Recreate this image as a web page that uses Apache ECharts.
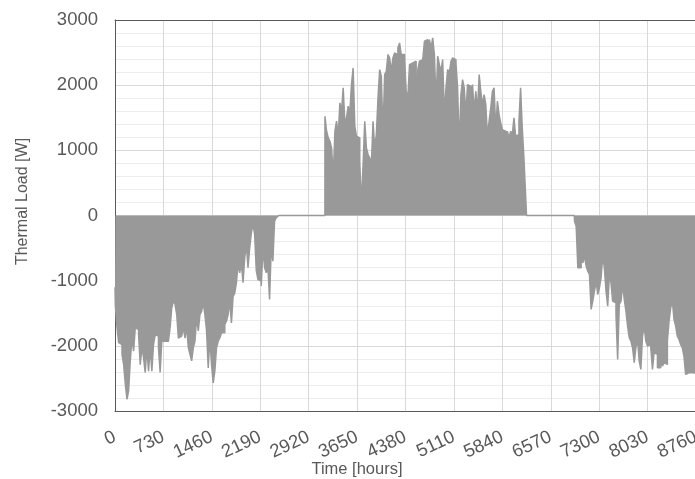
<!DOCTYPE html>
<html>
<head>
<meta charset="utf-8">
<script src="https://cdn.jsdelivr.net/npm/echarts@6/dist/echarts.min.js"></script>
<style>
  html, body { margin: 0; padding: 0; background: #fff; }
  #chart { width: 695px; height: 479px; }
</style>
</head>
<body>
<div id="chart"></div>
<script>
// Hourly building thermal load over one year (negative = heating, positive = cooling).
// Each season is stored as peak-load samples taken every SAMPLE_STEP hours from its start hour;
// every sample is drawn as a flat block SAMPLE_STEP hours wide.
const SAMPLE_STEP = 25;

const xTicks = [0, 730, 1460, 2190, 2920, 3650, 4380, 5110, 5840, 6570, 7300, 8030, 8760];
const yTicks = [-3000, -2000, -1000, 0, 1000, 2000, 3000];

// Winter / early spring heating (starts at hour 18)
const heatingEarlyStart = 18;
const heatingEarly = [
  -1390, -1720, -1950, -1980, -2130, -2290, -2590, -2820, -2690, -2230,
  -1880, -2080, -1720, -1750, -1830, -2290, -2030, -2180, -2410, -2030,
  -2390, -2030, -2390, -1980, -1830, -1850, -2030, -2410, -1930, -1930,
  -1900, -1930, -1930, -1720, -1420, -1310, -1360, -1520, -1880, -1850,
  -1880, -1720, -1880, -1720, -2030, -2130, -2230, -2030, -1930, -1570,
  -1770, -1520, -1470, -1340, -1520, -1770, -2340, -1880, -2290, -2570,
  -2390, -2030, -1930, -1880, -1800, -1800, -1670, -1620, -1520, -1310,
  -1650, -1240, -1190, -1030, -750, -880, -730, -1030, -650, -445,
  -800, -500, -265, -140, -290, -850, -980, -1010, -1080, -500,
  -800, -880, -800, -1290, -500, -700, -90, -35
];

// Summer cooling (starts at hour 3178)
const coolingStart = 3178;
const cooling = [
  1523, 1293, 1191, 1140, 1038, 600, 1293, 1447, 1217, 1728,
  1600, 1958, 1420, 1500, 1677, 1580, 2009, 2265, 1370, 1217,
  1190, 808, 169, 782, 1447, 1038, 936, 885, 782, 1447,
  1038, 1242, 1805, 2239, 2137, 1242, 2163, 2214, 2469, 2418,
  2214, 2418, 2495, 2469, 2571, 2648, 2469, 2469, 2418, 1907,
  1805, 2316, 2342, 2316, 2367, 1166, 2239, 2367, 2393, 2367,
  2674, 2699, 2597, 2699, 2571, 2725, 2469, 1728, 2444, 2316,
  2214, 2393, 1549, 1958, 2239, 2188, 2367, 2418, 2393, 2342,
  1958, 1038, 1856, 2086, 1958, 1549, 2009, 1984, 1651, 2009,
  1600, 1907, 1600, 2163, 1907, 1702, 1856, 1702, 1217, 1447,
  1651, 1907, 1958, 1319, 1754, 1549, 1421, 1319, 1293, 1242,
  1293, 1191, 1293, 1242, 1498, 1217, 1242, 1447, 1958, 1344,
  884
];

// Autumn / early winter heating (starts at hour 6941)
const heatingLateStart = 6941;
const heatingLate = [
  -87, -164, -803, -803, -470, -726, -624, -777, -854, -905,
  -1442, -1314, -1160, -1007, -1212, -1109, -956, -624, -803, -1160,
  -1391, -931, -1033, -1314, -1340, -1518, -2209, -1365, -1314, -1058,
  -1288, -1467, -1697, -1876, -1927, -2030, -2260, -2030, -1902, -2234,
  -2362, -1851, -1697, -1927, -2004, -1979, -2030, -2362, -2106, -2132,
  -2336, -2336, -2030, -2311, -2260, -2285, -1927, -1621, -1416, -1314,
  -1595, -1697, -1851, -1902, -1979, -2030, -2157, -2439, -2413, -2388,
  -2413
];

// Fixed points: first hour, idle periods between seasons, last hour
const firstHourLoad = [0, -1100];
const springIdle = [[2470, 0], [3165, 0]];
const autumnIdle = [[6205, 0], [6925, 0]];
const lastHourLoad = [8760, -2420];

// Expand a season into flat blocks centred on each sample hour
function season(start, values) {
  const pts = [];
  const half = SAMPLE_STEP / 2;
  values.forEach((v, i) => {
    const h = start + i * SAMPLE_STEP;
    pts.push([h - half, v], [h + half, v]);
  });
  return pts;
}

const loadData = [firstHourLoad]
  .concat(season(heatingEarlyStart, heatingEarly))
  .concat(springIdle)
  .concat(season(coolingStart, cooling))
  .concat(autumnIdle)
  .concat(season(heatingLateStart, heatingLate))
  .concat([lastHourLoad]);

const textColor = '#595959';
const frameColor = '#595959';
const fontFamily = '"Liberation Sans", Arial, sans-serif';
const plain = (v) => String(v);

const chart = echarts.init(document.getElementById('chart'), null, { renderer: 'canvas' });
chart.setOption({
  backgroundColor: '#ffffff',
  animation: false,
  grid: {
    left: 115,
    top: 20,
    width: 581,
    height: 391,
    containLabel: false,
    outerBoundsMode: 'none',
    show: false
  },
  xAxis: [{
    type: 'value',
    position: 'bottom',
    min: xTicks[0],
    max: xTicks[xTicks.length - 1],
    interval: xTicks[1] - xTicks[0],
    name: 'Time [hours]',
    nameLocation: 'middle',
    nameGap: 50,
    nameMoveOverlap: false,
    nameTextStyle: { color: textColor, fontSize: 16.5, fontFamily: fontFamily, padding: [0, 97, 0, 0] },
    axisLine: { show: true, onZero: false, lineStyle: { color: frameColor, width: 1 } },
    axisTick: { show: false },
    axisLabel: {
      color: textColor,
      fontSize: 18.5,
      fontFamily: fontFamily,
      rotate: 25,
      margin: 25,
      showMinLabel: true,
      showMaxLabel: true,
      formatter: plain
    },
    splitLine: { show: true, lineStyle: { color: '#d9d9d9', width: 1 } }
  }, {
    type: 'value',
    position: 'top',
    min: xTicks[0],
    max: xTicks[xTicks.length - 1],
    interval: xTicks[1] - xTicks[0],
    axisLine: { show: true, onZero: false, lineStyle: { color: frameColor, width: 1 } },
    axisTick: { show: false },
    axisLabel: { show: false },
    splitLine: { show: false }
  }],
  yAxis: {
    type: 'value',
    min: yTicks[0],
    max: yTicks[yTicks.length - 1],
    interval: yTicks[1] - yTicks[0],
    name: 'Thermal Load [W]',
    nameLocation: 'middle',
    nameGap: 84,
    nameRotate: 90,
    nameTextStyle: { color: textColor, fontSize: 16, fontFamily: fontFamily, padding: [0, 0, 0, 28] },
    axisLine: { show: true, onZero: false, lineStyle: { color: frameColor, width: 1 } },
    axisTick: { show: false },
    axisLabel: { color: textColor, fontSize: 18.5, fontFamily: fontFamily, margin: 17, formatter: plain },
    splitLine: { show: true, lineStyle: { color: '#d9d9d9', width: 1 } },
    minorTick: { show: false, splitNumber: 5 },
    minorSplitLine: { show: true, lineStyle: { color: '#ededed', width: 1 } }
  },
  series: [{
    type: 'line',
    xAxisIndex: 0,
    data: loadData,
    symbol: 'none',
    lineStyle: { color: '#999999', width: 1.5 },
    areaStyle: { color: '#999999', opacity: 1 },
    z: 3
  }]
});
</script>
</body>
</html>
